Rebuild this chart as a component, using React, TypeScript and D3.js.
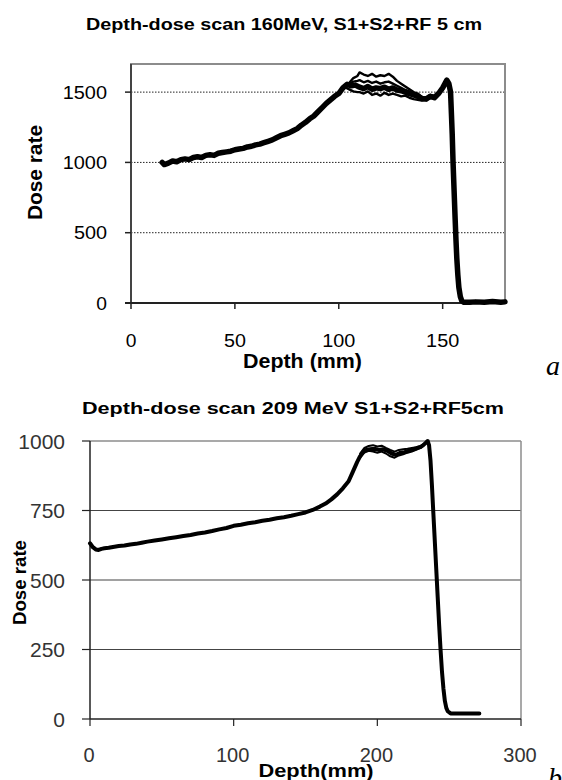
import React from "react";
import * as d3 from "d3";

// ---------- Chart a: 160 MeV ----------
const topTitle = "Depth-dose scan 160MeV, S1+S2+RF 5 cm";
const topXTicks = [0, 50, 100, 150];
const topYTicks = [0, 500, 1000, 1500];
const topGrid = [500, 1000, 1500];

const topDepthA = [15,16,18,20,22,24,26,28,30,32,34,36,38,40,42,44,46,48,50,52,54,56,58,60,62,64,66,68,70,72,74,76,78,80,82,84,86,88,90,92,94,96,98,100,102,104,106,108,110,112,114,116,118,120,122,124,126,128,130,132,134,136,138,140,142,144,146,148,150,152,153,153.8,154.2,154.6,155,155.5,156,156.4,156.8,157.3,157.8,158.5,159.2,160,163,166,170,174,178,180];
const topDoseA = [1000,985,995,1010,1005,1020,1025,1020,1035,1040,1035,1050,1055,1050,1065,1070,1075,1080,1090,1095,1100,1110,1115,1125,1130,1140,1150,1160,1175,1190,1200,1210,1225,1240,1265,1285,1310,1330,1360,1390,1420,1445,1470,1490,1530,1555,1545,1550,1535,1525,1540,1520,1530,1525,1535,1520,1530,1515,1510,1500,1490,1480,1470,1455,1450,1470,1460,1490,1530,1585,1560,1500,1350,1200,1000,800,600,450,320,200,110,45,15,6,5,8,6,10,6,8];

const topPlateauDepth = [103,105,107,109,110,112,114,116,118,120,122,124,126,128,130,132,134,136,138,140,142,144,146,148,150,152];
const topDoseB = [1540,1565,1600,1615,1640,1625,1615,1630,1610,1620,1615,1630,1610,1580,1560,1540,1520,1500,1490,1465,1460,1480,1475,1500,1540,1585];
const topDoseC = [1540,1555,1575,1580,1585,1570,1580,1565,1575,1560,1570,1575,1560,1545,1530,1515,1505,1490,1480,1460,1455,1475,1465,1495,1535,1585];
const topDoseD = [1535,1520,1505,1500,1500,1490,1505,1480,1490,1475,1495,1480,1490,1480,1470,1475,1460,1450,1445,1440,1445,1465,1455,1485,1525,1585];

// ---------- Chart b: 209 MeV ----------
const botTitle = "Depth-dose scan 209 MeV S1+S2+RF5cm";
const botXTicks = [0, 100, 200, 300];
const botYTicks = [0, 250, 500, 750, 1000];
const botGrid = [250, 500, 750];

const botDepthA = [0,1,2,4,6,8,10,13,16,20,24,28,32,36,40,45,50,55,60,65,70,75,80,85,90,95,100,105,110,115,120,125,130,135,140,145,150,155,160,164,168,172,176,180,183,186,188,190,192,195,198,201,204,207,210,213,216,219,222,225,228,230,232,234,235,236,237,238,239,240,241,242,243,244,245,246,247,248,249,251,255,260,265,271];
const botDoseA = [632,625,618,610,608,612,614,616,619,622,624,628,630,634,638,642,646,650,654,658,662,667,671,676,682,687,695,699,704,708,713,717,722,726,731,737,743,752,764,775,790,808,830,855,890,925,945,960,968,970,972,968,970,965,955,950,958,960,965,970,975,978,985,995,1000,985,930,840,740,640,540,440,340,250,170,110,65,40,28,20,20,20,20,20];

const botPlateauDepth = [188,191,194,197,200,203,206,209,212,215,218,221,224,227,230,233];
const botDoseB = [955,975,982,985,980,983,975,968,962,968,970,972,975,978,982,992];
const botDoseC = [940,958,965,962,958,962,955,945,940,948,952,958,962,968,975,988];

const FONT = "'Liberation Sans', Arial, Helvetica, sans-serif";

type TP = {
  x: number; y: number; size: number; weight?: string | number; anchor?: string;
  len?: number; rotate?: number; fill?: string; family?: string; italic?: boolean;
  children: React.ReactNode;
};
function T({ x, y, size, weight = "normal", anchor = "middle", len, rotate, fill = "#000", family = FONT, italic, children }: TP) {
  return (
    <text
      transform={`translate(${x},${y})${rotate ? ` rotate(${rotate})` : ""}`}
      fontSize={size}
      fontWeight={weight as any}
      fontFamily={family}
      fontStyle={italic ? "italic" : "normal"}
      textAnchor={anchor as any}
      fill={fill}
      {...(len ? { textLength: len, lengthAdjust: "spacingAndGlyphs" } : {})}
    >
      {children}
    </text>
  );
}

export default function App() {
  // Top chart scales
  const tx = d3.scaleLinear().domain([0, 180]).range([131, 505]);
  const ty = d3.scaleLinear().domain([0, 1700]).range([303, 64]);
  const topLine = d3.line<[number, number]>().x((d) => tx(d[0])).y((d) => ty(d[1]));

  // Bottom chart scales
  const bx = d3.scaleLinear().domain([0, 300]).range([90, 521]);
  const by = d3.scaleLinear().domain([0, 1000]).range([719, 441]);
  const botLine = d3.line<[number, number]>().x((d) => bx(d[0])).y((d) => by(d[1]));

  const tA = d3.zip(topDepthA, topDoseA) as [number, number][];
  const tB = d3.zip(topPlateauDepth, topDoseB) as [number, number][];
  const tC = d3.zip(topPlateauDepth, topDoseC) as [number, number][];
  const tD = d3.zip(topPlateauDepth, topDoseD) as [number, number][];
  const bA = d3.zip(botDepthA, botDoseA) as [number, number][];
  const bB = d3.zip(botPlateauDepth, botDoseB) as [number, number][];
  const bC = d3.zip(botPlateauDepth, botDoseC) as [number, number][];

  const [tx0, tx1] = tx.range();
  const [ty0, ty1] = ty.range();
  const [bx0, bx1] = bx.range();
  const [by0, by1] = by.range();

  return (
    <svg width={562} height={780} style={{ position: "absolute", left: 0, top: 0, background: "#fff" }}>
      <rect x={0} y={0} width={562} height={780} fill="#fff" />

      {/* ===== Chart a ===== */}
      <T x={284} y={29.5} size={16.5} weight="bold" len={396}>{topTitle}</T>

      {topGrid.map((v) => (
        <line key={v} x1={tx0} x2={tx1} y1={ty(v)} y2={ty(v)} stroke="#222" strokeWidth={1} strokeDasharray="1.5,1.5" />
      ))}
      <rect x={tx0} y={ty1} width={tx1 - tx0} height={ty0 - ty1} fill="none" stroke="#8c8c8c" strokeWidth={2} />
      <line x1={tx0} x2={tx0} y1={ty1} y2={ty0} stroke="#444" strokeWidth={2} />
      <line x1={tx0 - 6} x2={tx1} y1={ty0} y2={ty0} stroke="#222" strokeWidth={2} />
      {topYTicks.map((v) => (
        <g key={v}>
          <line x1={tx0 - 6} x2={tx0} y1={ty(v)} y2={ty(v)} stroke="#222" strokeWidth={1.5} />
          <T x={107} y={ty(v) + 6.5} size={18} anchor="end" len={String(v).length * 11.2 - 0.5}>{v}</T>
        </g>
      ))}
      {topXTicks.map((v) => (
        <g key={v}>
          <line x1={tx(v)} x2={tx(v)} y1={ty0} y2={ty0 + 6} stroke="#222" strokeWidth={1.5} />
          <T x={tx(v)} y={346.5} size={18} len={String(v).length * 11.2 - 0.5}>{v}</T>
        </g>
      ))}
      <T x={302.5} y={368} size={20} weight="bold" len={119}>Depth (mm)</T>
      <T x={42} y={172.5} size={21} weight="bold" rotate={-90} len={95}>Dose rate</T>

      <g fill="none" stroke="#000" strokeLinejoin="round" strokeLinecap="round">
        <path d={topLine(tA) || ""} strokeWidth={5.5} />
        <path d={topLine(tB) || ""} strokeWidth={2.4} />
        <path d={topLine(tC) || ""} strokeWidth={2.4} />
        <path d={topLine(tD) || ""} strokeWidth={2.4} />
      </g>

      <T x={546} y={375} size={28} italic family="'Liberation Serif', 'Times New Roman', serif" anchor="start">a</T>

      {/* ===== Chart b ===== */}
      <T x={293} y={414.3} size={16} weight="bold" len={422}>{botTitle}</T>

      {botGrid.map((v) => (
        <line key={v} x1={bx0} x2={bx1} y1={by(v)} y2={by(v)} stroke="#444" strokeWidth={1.2} />
      ))}
      <line x1={bx0} x2={bx1} y1={by1} y2={by1} stroke="#8c8c8c" strokeWidth={1.5} />
      <line x1={bx1} x2={bx1} y1={by1} y2={by0} stroke="#8c8c8c" strokeWidth={1.5} />
      <line x1={bx0} x2={bx0} y1={by1} y2={by0} stroke="#222" strokeWidth={1.5} />
      <line x1={bx0} x2={bx1} y1={by0} y2={by0} stroke="#222" strokeWidth={1.5} />
      {botYTicks.map((v) => (
        <g key={v}>
          <line x1={bx0 - 8} x2={bx0} y1={by(v)} y2={by(v)} stroke="#222" strokeWidth={1.2} />
          <T x={65} y={by(v) + 7.5} size={21} anchor="end" fill="#333">{v}</T>
        </g>
      ))}
      {botXTicks.map((v) => (
        <g key={v}>
          <line x1={bx(v)} x2={bx(v)} y1={by0} y2={by0 + 7} stroke="#222" strokeWidth={1.2} />
          <T x={bx(v) - 1} y={762} size={20} fill="#333">{v}</T>
        </g>
      ))}
      <T x={316} y={777} size={19} weight="bold" len={115}>Depth(mm)</T>
      <T x={25.5} y={582.5} size={19} weight="bold" rotate={-90} len={85}>Dose rate</T>

      <g fill="none" stroke="#000" strokeLinejoin="round" strokeLinecap="round">
        <path d={botLine(bA) || ""} strokeWidth={4} />
        <path d={botLine(bB) || ""} strokeWidth={2} />
        <path d={botLine(bC) || ""} strokeWidth={2} />
      </g>

      <T x={548} y={787} size={28} italic family="'Liberation Serif', 'Times New Roman', serif" anchor="start">b</T>
    </svg>
  );
}
